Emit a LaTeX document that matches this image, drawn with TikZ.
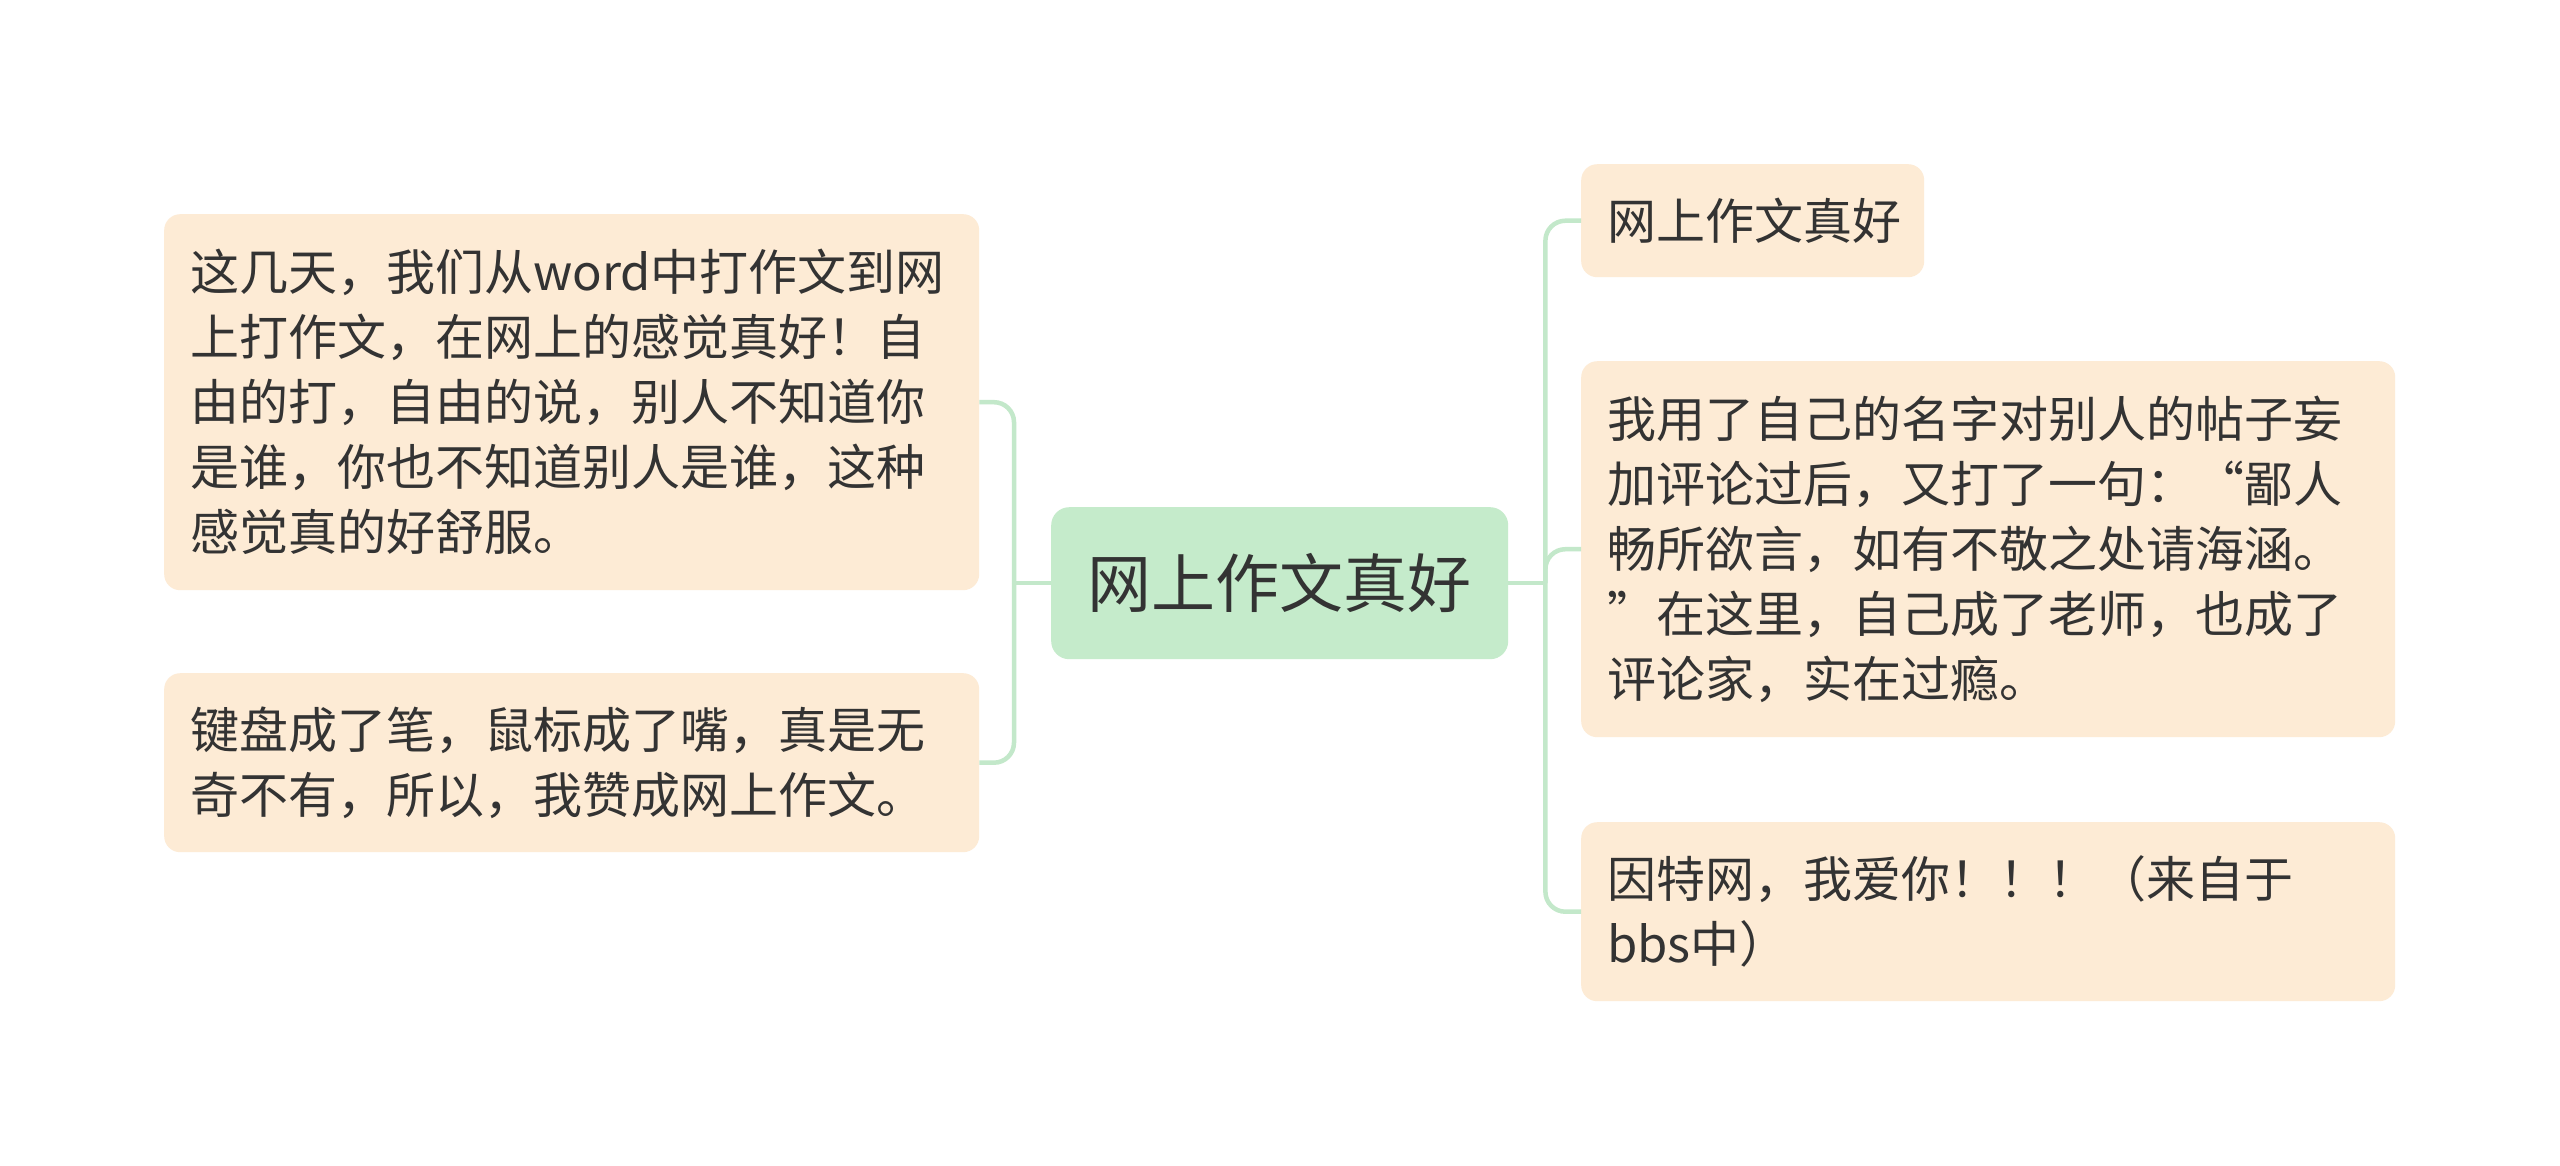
\documentclass[tikz,border=0pt]{standalone}
\usepackage{fontspec}
\setmainfont{Noto Sans CJK SC}
\definecolor{peach}{HTML}{FDEBD5}
\definecolor{mint}{HTML}{C5EBCB}
\definecolor{linec}{HTML}{C3E8CA}
\definecolor{txt}{HTML}{333333}
\begin{document}
\begin{tikzpicture}[x=1pt,y=-1pt,
  box/.style={rectangle, rounded corners=16pt, fill=peach, anchor=north west,
    inner xsep=26pt, inner ysep=0pt, align=left, text=txt,
    font=\fontsize{49}{65}\selectfont},
  central/.style={rectangle, rounded corners=18pt, fill=mint, anchor=north west,
    inner sep=0pt, text=txt, font=\fontsize{64}{70}\selectfont},
  conn/.style={draw=linec, line width=4.5pt, rounded corners=20pt}]
\useasboundingbox (0,0) rectangle (2560,1165);
\fill[white] (0,0) rectangle (2560,1165);

\node[central, minimum width=457pt, minimum height=152pt] (c) at (1051,507) {网上作文真好};

\node[box, text width=763pt, minimum height=376pt] (l1) at (164,214)
 {这几天，我们从word中打作文到网\\上打作文，在网上的感觉真好！自\\由的打，自由的说，别人不知道你\\是谁，你也不知道别人是谁，这种\\感觉真的好舒服。};
\node[box, text width=763pt, minimum height=179pt] (l2) at (164,673)
 {键盘成了笔，鼠标成了嘴，真是无\\奇不有，所以，我赞成网上作文。};

\node[box, text width=291pt, minimum height=113pt] (r1) at (1581,164) {网上作文真好};
\node[box, text width=762pt, minimum height=376pt] (r2) at (1581,361)
 {我用了自己的名字对别人的帖子妄\\加评论过后，又打了一句：“鄙人\\畅所欲言，如有不敬之处请海涵。\\”在这里，自己成了老师，也成了\\评论家，实在过瘾。};
\node[box, text width=762pt, minimum height=179pt] (r3) at (1581,822)
 {因特网，我爱你！！！（来自于\\bbs中）};

\coordinate (jl) at ([xshift=-37pt]c.west);
\coordinate (jr) at ([xshift=37pt]c.east);

\draw[conn] (c.west) -- (jl);
\draw[conn] (jl) |- (l1.east);
\draw[conn] (jl) |- (l2.east);
\draw[conn] (c.east) -- (jr);
\draw[conn] (jr) |- (r1.west);
\draw[conn] (jr) |- (r2.west);
\draw[conn] (jr) |- (r3.west);
\end{tikzpicture}
\end{document}
